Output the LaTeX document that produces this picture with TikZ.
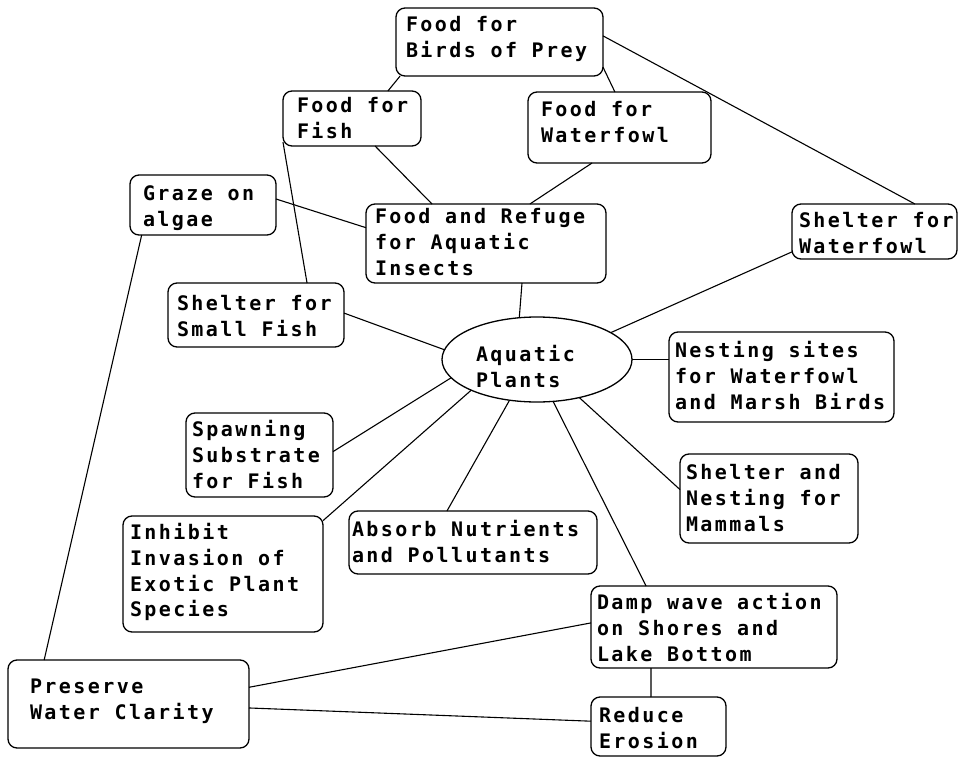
\documentclass[tikz,border=0pt]{standalone}
\usepackage{fontspec}
\newfontfamily\mapfont[LetterSpace=12.3]{DejaVu Sans Mono Bold}
\usetikzlibrary{shapes.geometric,calc}
\tikzset{
  box/.style={draw, rounded corners=9pt, line width=1.3pt, inner sep=0pt, outer sep=0pt},
  oval/.style={draw, ellipse, line width=1.3pt, inner sep=0pt, outer sep=0pt, minimum width=190pt, minimum height=85pt},
  lbl/.style={anchor=base west, inner sep=0pt, outer sep=0pt, align=left, font=\mapfont\fontsize{20}{25.8}\selectfont},
  link/.style={line width=1.1pt},
}
\newcommand\rbox[5]{\node[box, minimum width={(#4-#2)*1pt}, minimum height={(#5-#3)*1pt}] (#1) at ({(#2+#4)/2},{(#3+#5)/2}) {};}
\begin{document}
\begin{tikzpicture}[x=1pt,y=-1pt]
\useasboundingbox[fill=white] (0,0) rectangle (958,757);
% boxes
\rbox{prey}{396}{8}{603}{76}
\rbox{fish}{283}{91}{421}{146}
\rbox{fowl}{528}{92}{711}{163}
\rbox{graze}{130}{175}{276}{235}
\rbox{insects}{366}{204}{606}{283}
\rbox{shelterfowl}{792}{204}{957}{259}
\rbox{smallfish}{168}{283}{344}{347}
\node[oval] (plants) at (537,359.5) {};
\rbox{nesting}{669}{332}{894}{422}
\rbox{spawn}{186}{413}{333}{497}
\rbox{inhibit}{123}{516}{323}{632}
\rbox{absorb}{349}{511}{597}{574}
\rbox{mammals}{680}{454}{858}{543}
\rbox{damp}{591}{586}{837}{668}
\rbox{erosion}{591}{697}{726}{756}
\rbox{clarity}{8}{660}{249}{748}
% texts (anchor = baseline of last line)
\node[lbl] (prey-t) at (406,57.3) {Food for\\Birds of Prey};
\node[lbl] (fish-t) at (297,138.3) {Food for\\Fish};
\node[lbl] (fowl-t) at (541,142.3) {Food for\\Waterfowl};
\node[lbl] (graze-t) at (143,226.3) {Graze on\\algae};
\node[lbl] (insects-t) at (375,275.1) {Food and Refuge\\for Aquatic\\Insects};
\node[lbl] (shelterfowl-t) at (799,253.3) {Shelter for\\Waterfowl};
\node[lbl] (smallfish-t) at (177,336.3) {Shelter for\\Small Fish};
\node[lbl] (plants-t) at (476,387.3) {Aquatic\\Plants};
\node[lbl] (nesting-t) at (675,409.1) {Nesting sites\\for Waterfowl\\and Marsh Birds};
\node[lbl] (spawn-t) at (192,488.1) {Spawning\\Substrate\\for Fish};
\node[lbl] (inhibit-t) at (130,616.9) {Inhibit\\Invasion of\\Exotic Plant\\Species};
\node[lbl] (absorb-t) at (352,562.3) {Absorb Nutrients\\and Pollutants};
\node[lbl] (mammals-t) at (686,531.1) {Shelter and\\Nesting for\\Mammals};
\node[lbl] (damp-t) at (597,661.1) {Damp wave action\\on Shores and\\Lake Bottom};
\node[lbl] (erosion-t) at (599,748.3) {Reduce\\Erosion};
\node[lbl] (clarity-t) at (30,719.3) {Preserve\\Water Clarity};
% connectors
\draw[link] ($(prey.south west)!0.02!(prey.south east)$) -- ($(fish.north west)!0.76!(fish.north east)$);
\draw[link] ($(prey.north east)!0.87!(prey.south east)$) -- ($(fowl.north west)!0.475!(fowl.north east)$);
\draw[link] ($(prey.north east)!0.41!(prey.south east)$) -- ($(shelterfowl.north west)!0.745!(shelterfowl.north east)$);
\draw[link] ($(fish.south west)!0.667!(fish.south east)$) -- ($(insects.north west)!0.275!(insects.north east)$);
\draw[link] ($(fowl.south west)!0.35!(fowl.south east)$) -- ($(insects.north west)!0.683!(insects.north east)$);
\draw[link] ($(graze.north east)!0.4!(graze.south east)$) -- ($(insects.north west)!0.30!(insects.south west)$);
\draw[link] ($(fish.north west)!0.93!(fish.south west)$) -- ($(smallfish.north west)!0.79!(smallfish.north east)$);
\draw[link] ($(graze.south west)!0.08!(graze.south east)$) -- ($(clarity.north west)!0.15!(clarity.north east)$);
\draw[link] ($(insects.south west)!0.65!(insects.south east)$) -- (plants.113);
\draw[link] ($(smallfish.north east)!0.47!(smallfish.south east)$) -- (plants.174);
\draw[link] ($(shelterfowl.north west)!0.87!(shelterfowl.south west)$) -- (plants.20);
\draw[link] (plants.east) -- (plants.east -| nesting.west);
\draw[link] (plants.192) -- ($(spawn.north east)!0.46!(spawn.south east)$);
\draw[link] (plants.205) -- ($(inhibit.north east)!0.04!(inhibit.south east)$);
\draw[link] (plants.236) -- ($(absorb.north west)!0.395!(absorb.north east)$);
\draw[link] (plants.291) -- ($(damp.north west)!0.224!(damp.north east)$);
\draw[link] (plants.318) -- ($(mammals.north west)!0.40!(mammals.south west)$);
\draw[link] ($(damp.north west)!0.45!(damp.south west)$) -- ($(clarity.north east)!0.31!(clarity.south east)$);
\draw[link] ($(damp.south west)!0.244!(damp.south east)$) -- ($(erosion.north west)!0.444!(erosion.north east)$);
\draw[link] ($(clarity.north east)!0.545!(clarity.south east)$) -- ($(erosion.north west)!0.41!(erosion.south west)$);
\end{tikzpicture}
\end{document}
